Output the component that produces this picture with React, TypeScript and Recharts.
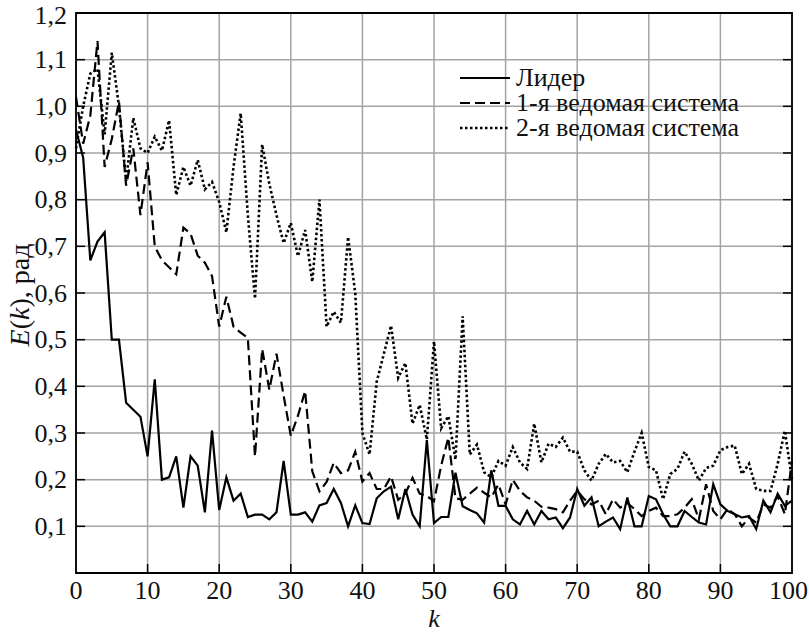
import { LineChart, Line, XAxis, YAxis, CartesianGrid, Legend, ReferenceArea } from "recharts";

const kValues = Array.from({ length: 101 }, (_, i) => i);

const leader = [
  0.95, 0.89, 0.67, 0.71, 0.73, 0.5, 0.5, 0.365, 0.35, 0.335,
  0.25, 0.415, 0.2, 0.205, 0.25, 0.14, 0.25, 0.23, 0.13, 0.305,
  0.135, 0.205, 0.155, 0.17, 0.12, 0.125, 0.125, 0.115, 0.13, 0.24,
  0.125, 0.125, 0.13, 0.11, 0.145, 0.15, 0.18, 0.15, 0.1, 0.145,
  0.107, 0.105, 0.16, 0.175, 0.185, 0.115, 0.18, 0.125, 0.1, 0.285,
  0.107, 0.12, 0.12, 0.215, 0.143, 0.135, 0.128, 0.108, 0.22, 0.144,
  0.144, 0.115, 0.104, 0.133, 0.104, 0.133, 0.115, 0.119, 0.096, 0.119,
  0.18, 0.144, 0.162, 0.1, 0.11, 0.119, 0.094, 0.162, 0.1, 0.1,
  0.165, 0.158, 0.126, 0.1, 0.1, 0.133, 0.12, 0.108, 0.104, 0.19,
  0.147, 0.133, 0.126, 0.119, 0.122, 0.094, 0.155, 0.13, 0.17, 0.144,
  0.155,
];

const follower1 = [
  1.02, 0.92, 0.98, 1.14, 0.87, 0.93, 1.01, 0.83, 0.91, 0.767,
  0.88, 0.7, 0.67, 0.655, 0.64, 0.74, 0.727, 0.68, 0.665, 0.636,
  0.528, 0.592, 0.528, 0.515, 0.504, 0.25, 0.48, 0.393, 0.47, 0.38,
  0.294, 0.337, 0.39, 0.218, 0.175, 0.195, 0.236, 0.214, 0.22, 0.26,
  0.196, 0.214, 0.18, 0.18, 0.207, 0.157, 0.17, 0.204, 0.17, 0.165,
  0.154, 0.23, 0.29, 0.16, 0.157, 0.17, 0.183, 0.172, 0.162, 0.19,
  0.147, 0.2, 0.176, 0.162, 0.155, 0.142, 0.14, 0.137, 0.13, 0.155,
  0.176, 0.158, 0.147, 0.155, 0.126, 0.158, 0.14, 0.15, 0.137, 0.122,
  0.133, 0.14, 0.122, 0.122, 0.126, 0.14, 0.158, 0.115, 0.19, 0.133,
  0.115, 0.137, 0.126, 0.1, 0.119, 0.108, 0.147, 0.14, 0.165, 0.126,
  0.24,
];

const follower2 = [
  0.91, 1.0, 1.07, 1.08, 0.94, 1.115, 1.0, 0.84, 0.975, 0.91,
  0.9, 0.935, 0.905, 0.97, 0.81, 0.87, 0.83, 0.885, 0.822, 0.838,
  0.795, 0.73, 0.87, 0.985, 0.767, 0.588, 0.918, 0.834, 0.767, 0.707,
  0.75, 0.679, 0.735, 0.624, 0.8, 0.528, 0.56, 0.536, 0.72, 0.6,
  0.3, 0.254, 0.41, 0.47, 0.53, 0.418, 0.45, 0.32, 0.36, 0.286,
  0.496, 0.31, 0.336, 0.243, 0.55, 0.254, 0.275, 0.216, 0.205, 0.24,
  0.23, 0.27, 0.237, 0.223, 0.32, 0.237, 0.277, 0.27, 0.29, 0.26,
  0.26, 0.22, 0.198, 0.234, 0.255, 0.237, 0.24, 0.216, 0.26, 0.3,
  0.227, 0.22, 0.158, 0.212, 0.223, 0.26, 0.234, 0.198, 0.225, 0.23,
  0.263, 0.27, 0.273, 0.212, 0.234, 0.18, 0.176, 0.176, 0.234, 0.305,
  0.2,
];

const xTicks = [0, 10, 20, 30, 40, 50, 60, 70, 80, 90, 100];
const yTicks = [0, 0.1, 0.2, 0.3, 0.4, 0.5, 0.6, 0.7, 0.8, 0.9, 1.0, 1.1, 1.2];

const seriesNames = ["Лидер", "1-я ведомая система", "2-я ведомая система"];

const FONT = "'Liberation Serif', 'Times New Roman', Times, 'DejaVu Serif', serif";
const FS = 26;
const PLOT_LEFT = 76;
const PLOT_RIGHT = 792;
const PLOT_BOTTOM = 573;

const data = kValues.map((k, i) => ({
  k,
  leader: leader[i],
  f1: follower1[i],
  f2: follower2[i],
}));

const styles = [
  { key: "leader", dash: undefined, width: 2.2 },
  { key: "f1", dash: "10 5", width: 2.2 },
  { key: "f2", dash: "2.5 2.5", width: 2.6 },
];

function fmtY(v: number) {
  if (v === 0) return "0";
  return v.toFixed(1).replace(".", ",");
}

function YTick(props: any) {
  const { y, payload } = props;
  const v = payload.value;
  return (
    <g>
      {v > 0 && v < 1.2 && (
        <>
          <line x1={PLOT_LEFT} x2={PLOT_LEFT + 9} y1={y} y2={y} stroke="#000" strokeWidth={1.5} />
          <line x1={PLOT_RIGHT - 9} x2={PLOT_RIGHT} y1={y} y2={y} stroke="#000" strokeWidth={1.5} />
        </>
      )}
      {v > 0 && (
        <text x={67} y={v === 1.2 ? y + 2 : y} textAnchor="end" dominantBaseline="central" style={{ fontFamily: FONT }} fontSize={FS} fill="#111">
          {fmtY(v)}
        </text>
      )}
    </g>
  );
}

function XTick(props: any) {
  const { x, payload } = props;
  const v = payload.value;
  const last = v === 100;
  return (
    <g>
      {v > 0 && v < 100 && (
        <line x1={x} x2={x} y1={PLOT_BOTTOM} y2={PLOT_BOTTOM - 9} stroke="#000" strokeWidth={1.5} />
      )}
      <text x={last ? 808 : x} y={PLOT_BOTTOM + 17} textAnchor={last ? "end" : "middle"} dominantBaseline="central" style={{ fontFamily: FONT }} fontSize={FS} fill="#111">
        {String(v)}
      </text>
    </g>
  );
}

function YTitle() {
  const cx = 19;
  const cy = 295;
  return (
    <text x={cx} y={cy} transform={`rotate(-90, ${cx}, ${cy})`} textAnchor="middle" dominantBaseline="central" style={{ fontFamily: FONT }} fontSize={28} fill="#111">
      <tspan fontStyle="italic">E</tspan>(<tspan fontStyle="italic">k</tspan>), рад
    </text>
  );
}

function XTitle() {
  return (
    <text x={434} y={618} textAnchor="middle" dominantBaseline="central" style={{ fontFamily: FONT }} fontSize={26} fontStyle="italic" fill="#111">
      k
    </text>
  );
}

function LegendBox() {
  return (
    <div style={{ fontFamily: FONT, fontSize: 26, color: "#111", lineHeight: "25px" }}>
      {seriesNames.map((name, i) => (
        <div key={name} style={{ display: "flex", alignItems: "center", whiteSpace: "nowrap", height: 25 }}>
          <svg width={54} height={25} style={{ marginRight: 4, flex: "none" }}>
            <line x1={2} x2={52} y1={13} y2={13} stroke="#000" strokeWidth={styles[i].width} strokeDasharray={styles[i].dash} />
          </svg>
          <span>{name}</span>
        </div>
      ))}
    </div>
  );
}

export default function App() {
  return (
    <div style={{ position: "absolute", left: 0, top: 0, background: "#fff" }}>
      <LineChart width={809} height={632} data={data} margin={{ top: 13, right: 17, bottom: 0, left: 0 }}>
        <CartesianGrid stroke="#a3a3a3" strokeWidth={1.5} />
        <XAxis
          dataKey="k"
          type="number"
          domain={[0, 100]}
          ticks={xTicks}
          height={59}
          tickLine={false}
          axisLine={false}
          tick={<XTick />}
          interval={0}
          label={<XTitle />}
        />
        <YAxis
          type="number"
          domain={[0, 1.2]}
          ticks={yTicks}
          width={76}
          tickLine={false}
          axisLine={false}
          tick={<YTick />}
          interval={0}
          label={<YTitle />}
        />
        <Legend
          layout="vertical"
          verticalAlign="middle"
          align="center"
          wrapperStyle={{ position: "absolute", left: 458, top: 65, width: 330 }}
          content={<LegendBox />}
        />
        {styles.map((s, i) => (
          <Line
            key={s.key}
            type="linear"
            dataKey={s.key}
            name={seriesNames[i]}
            stroke="#000"
            strokeWidth={s.width}
            strokeDasharray={s.dash}
            dot={false}
            activeDot={false}
            isAnimationActive={false}
          />
        ))}
        <ReferenceArea x1={0} x2={100} y1={0} y2={1.2} fill="none" stroke="#000" strokeWidth={1.8} ifOverflow="visible" />
      </LineChart>
    </div>
  );
}
